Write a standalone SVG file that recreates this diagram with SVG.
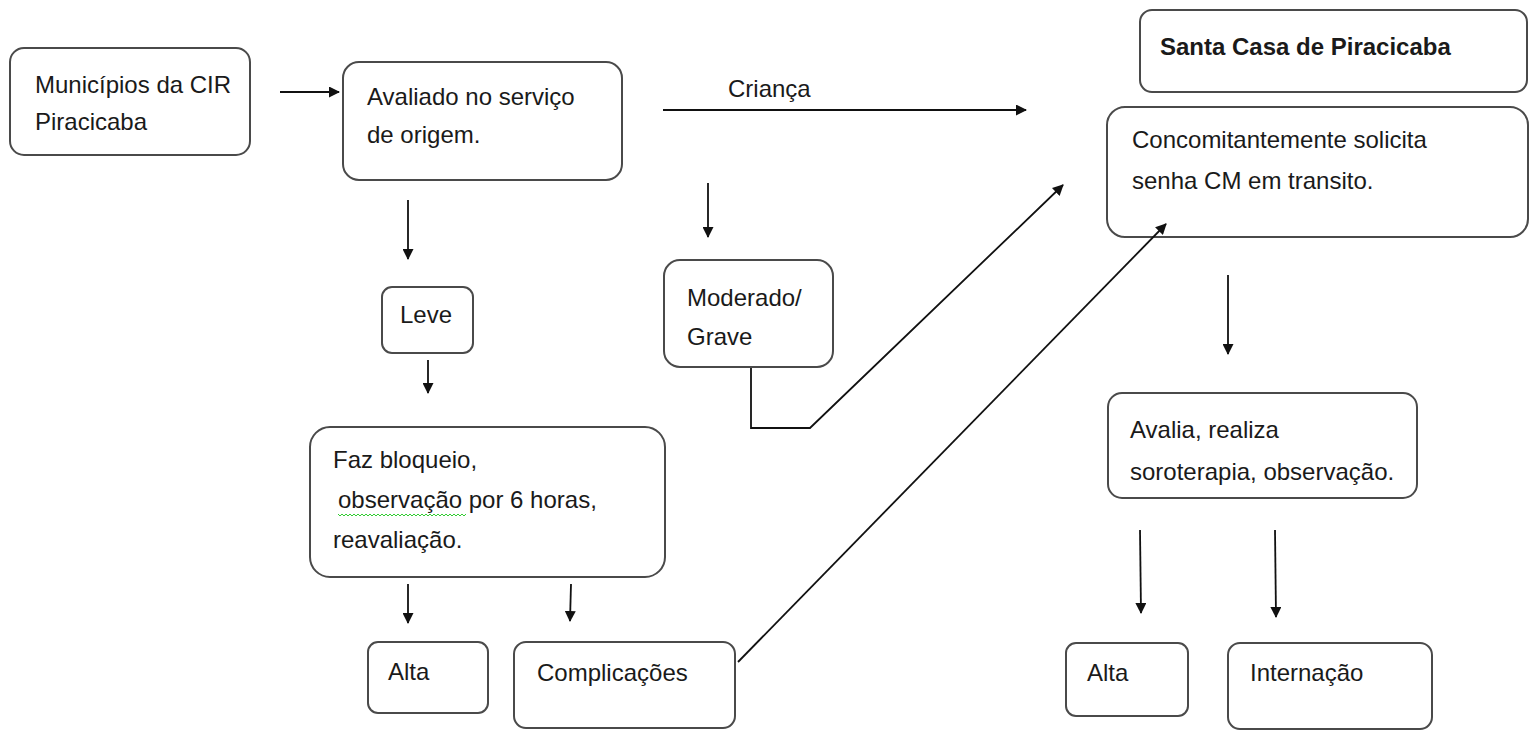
<svg xmlns="http://www.w3.org/2000/svg" width="1534" height="730" viewBox="0 0 1534 730">
<style>
.box{fill:#fff;stroke:#4a4a4a;stroke-width:2}
.t{font-family:"Liberation Sans",Arial,sans-serif;font-size:24px;fill:#1a1a1a}
.b{font-weight:bold}
.c{fill:none;stroke:#111;stroke-width:1.8}
</style>
<defs>
<marker id="ah" markerWidth="11" markerHeight="11" refX="10" refY="5.5" orient="auto" markerUnits="userSpaceOnUse" viewBox="0 0 11 11">
<path d="M0,0 L11,5.5 L0,11 z" fill="#111"/>
</marker>
</defs>
<rect width="1534" height="730" fill="#fff"/>
<g id="municipios">
<rect class="box" x="10" y="48" width="240" height="107" rx="14"/>
<text class="t" x="35" y="93">Municípios da CIR</text>
<text class="t" x="35" y="130">Piracicaba</text>
</g>
<g id="avaliado">
<rect class="box" x="343" y="62" width="279" height="118" rx="16"/>
<text class="t" x="367" y="105">Avaliado no serviço</text>
<text class="t" x="367" y="143">de origem.</text>
</g>
<g id="santa-casa">
<rect class="box" x="1140" y="10" width="387" height="82" rx="12"/>
<text class="t b" x="1160" y="55">Santa Casa de Piracicaba</text>
</g>
<g id="concomitantemente">
<rect class="box" x="1107" y="107" width="421" height="130" rx="18"/>
<text class="t" x="1132" y="148">Concomitantemente solicita</text>
<text class="t" x="1132" y="189">senha CM em transito.</text>
</g>
<g id="leve">
<rect class="box" x="382" y="287" width="91" height="66" rx="10"/>
<text class="t" x="400" y="323">Leve</text>
</g>
<g id="moderado">
<rect class="box" x="664" y="260" width="169" height="107" rx="16"/>
<text class="t" x="687" y="306">Moderado/</text>
<text class="t" x="687" y="345">Grave</text>
</g>
<g id="faz-bloqueio">
<rect class="box" x="310" y="427" width="355" height="150" rx="20"/>
<text class="t" x="333" y="468">Faz bloqueio,</text>
<text class="t" x="338" y="508">observação por 6 horas,</text>
<path d="M338,514 l2,2 l2,-2 l2,2 l2,-2 l2,2 l2,-2 l2,2 l2,-2 l2,2 l2,-2 l2,2 l2,-2 l2,2 l2,-2 l2,2 l2,-2 l2,2 l2,-2 l2,2 l2,-2 l2,2 l2,-2 l2,2 l2,-2 l2,2 l2,-2 l2,2 l2,-2 l2,2 l2,-2 l2,2 l2,-2 l2,2 l2,-2 l2,2 l2,-2 l2,2 l2,-2 l2,2 l2,-2 l2,2 l2,-2 l2,2 l2,-2 l2,2 l2,-2 l2,2 l2,-2 l2,2 l2,-2 l2,2 l2,-2 l2,2 l2,-2 l2,2 l2,-2 l2,2 l2,-2 l2,2 l2,-2 l2,2 l2,-2 l2,2 l2,-2" fill="none" stroke="#3c3" stroke-width="1"/>
<text class="t" x="333" y="548">reavaliação.</text>
</g>
<g id="alta-1">
<rect class="box" x="368" y="642" width="120" height="71" rx="10"/>
<text class="t" x="388" y="680">Alta</text>
</g>
<g id="complicacoes">
<rect class="box" x="514" y="642" width="221" height="86" rx="12"/>
<text class="t" x="537" y="681">Complicações</text>
</g>
<g id="avalia">
<rect class="box" x="1108" y="393" width="309" height="105" rx="14"/>
<text class="t" x="1130" y="438">Avalia, realiza</text>
<text class="t" x="1130" y="480">soroterapia, observação.</text>
</g>
<g id="alta-2">
<rect class="box" x="1066" y="643" width="122" height="73" rx="10"/>
<text class="t" x="1087" y="681">Alta</text>
</g>
<g id="internacao">
<rect class="box" x="1228" y="643" width="204" height="86" rx="12"/>
<text class="t" x="1250" y="681">Internação</text>
</g>
<g id="connectors">
<line class="c" x1="280" y1="92" x2="339" y2="92" marker-end="url(#ah)"/>
<line class="c" x1="663" y1="110" x2="1026" y2="110" marker-end="url(#ah)"/>
<line class="c" x1="408" y1="200" x2="408" y2="259" marker-end="url(#ah)"/>
<line class="c" x1="428" y1="360" x2="428" y2="393" marker-end="url(#ah)"/>
<line class="c" x1="408" y1="584" x2="408" y2="623" marker-end="url(#ah)"/>
<line class="c" x1="571" y1="584" x2="570" y2="621" marker-end="url(#ah)"/>
<line class="c" x1="708" y1="183" x2="708" y2="237" marker-end="url(#ah)"/>
<polyline class="c" points="751,368 751,428 810,428 1063,185" marker-end="url(#ah)"/>
<line class="c" x1="738" y1="662" x2="1166" y2="224" marker-end="url(#ah)"/>
<line class="c" x1="1228" y1="275" x2="1228" y2="354" marker-end="url(#ah)"/>
<line class="c" x1="1140" y1="530" x2="1141" y2="613" marker-end="url(#ah)"/>
<line class="c" x1="1275" y1="530" x2="1276" y2="617" marker-end="url(#ah)"/>
<text class="t" x="728" y="97">Criança</text>
</g>
</svg>
